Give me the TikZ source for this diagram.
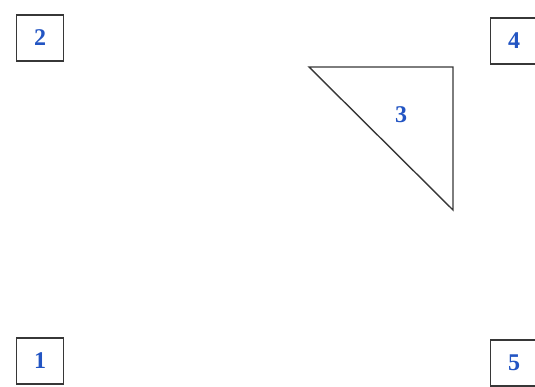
\documentclass[tikz,border=0pt]{standalone}
\usepackage{fontspec}
\setmainfont{Liberation Serif}
\usetikzlibrary{positioning, calc}

\definecolor{numblue}{RGB}{35,85,195}
\definecolor{edgegray}{RGB}{55,55,55}

\begin{document}
\begin{tikzpicture}[
    x=1pt, y=1pt,
    numbox/.style={
        draw=edgegray,
        fill=white,
        line width=1.8pt,
        minimum width=47pt,
        minimum height=46pt,
        inner sep=0pt,
        text=numblue,
        font=\fontsize{24}{26}\selectfont\bfseries
    },
    numlabel/.style={
        text=numblue,
        font=\fontsize{24}{26}\selectfont\bfseries
    },
    triedge/.style={
        draw=edgegray,
        line width=1.4pt,
        line join=miter
    }
]

% --- Frame ----------------------------------------------------------------
\useasboundingbox (0,0) rectangle (535,387);

% --- Corner boxes ---------------------------------------------------------
\node[numbox] (box2) at (40, 349) {2};
\node[numbox] (box4) at (514, 346) {4};
\node[numbox] (box1) at (40, 26)  {1};
\node[numbox] (box5) at (514, 24)  {5};

% --- Triangle -------------------------------------------------------------
\coordinate (tl) at (309, 320);
\coordinate (tr) at (453, 320);
\coordinate (br) at (453, 177);

\draw[triedge] (tl) -- (tr) -- (br) -- cycle;

\node[numlabel] (tri3) at (401, 272) {3};

\end{tikzpicture}
\end{document}
